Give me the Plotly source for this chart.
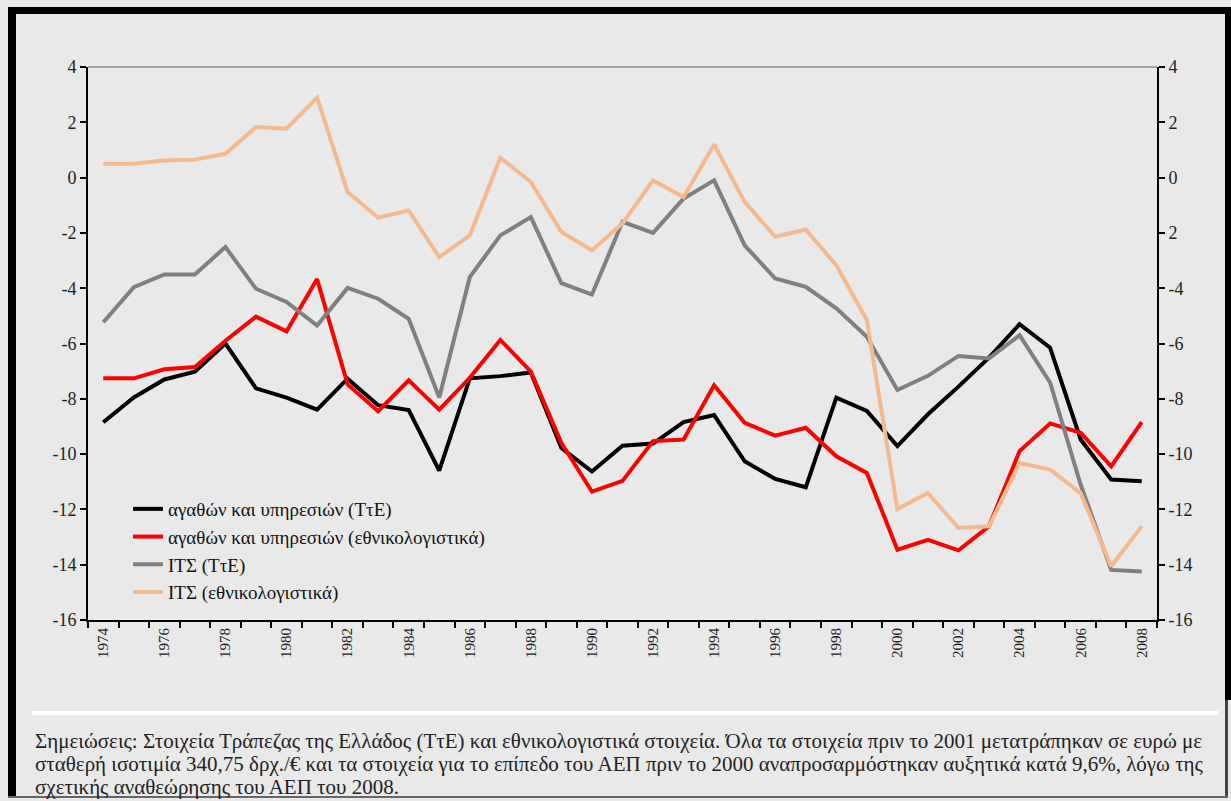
import plotly.graph_objects as go

years = list(range(1974, 2009))

# ισοζύγιο αγαθών και υπηρεσιών / ΙΤΣ, % του ΑΕΠ
goods_tte = [-8.85, -7.95, -7.3, -7.02, -6.0, -7.62, -7.96, -8.39, -7.27, -8.23,
             -8.41, -10.6, -7.26, -7.18, -7.05, -9.78, -10.63, -9.7, -9.62, -8.84,
             -8.59, -10.26, -10.9, -11.2, -7.96, -8.44, -9.71, -8.56, -7.56, -6.51,
             -5.3, -6.15, -9.47, -10.92, -10.98]
goods_nat = [-7.26, -7.26, -6.93, -6.85, -5.9, -5.03, -5.56, -3.67, -7.48, -8.45,
             -7.33, -8.39, -7.24, -5.87, -7.02, -9.6, -11.36, -10.97, -9.53, -9.47,
             -7.51, -8.87, -9.33, -9.05, -10.08, -10.68, -13.46, -13.1, -13.48, -12.61,
             -9.89, -8.89, -9.23, -10.44, -8.84]
its_tte = [-5.23, -3.96, -3.5, -3.5, -2.51, -4.02, -4.5, -5.35, -3.99, -4.38,
           -5.11, -7.95, -3.6, -2.09, -1.43, -3.82, -4.23, -1.6, -2.0, -0.76,
           -0.1, -2.45, -3.65, -3.95, -4.73, -5.76, -7.68, -7.17, -6.45, -6.54,
           -5.7, -7.41, -11.1, -14.19, -14.25]
its_nat = [0.5, 0.5, 0.62, 0.65, 0.86, 1.83, 1.77, 2.89, -0.52, -1.45,
           -1.19, -2.88, -2.09, 0.72, -0.16, -1.97, -2.63, -1.66, -0.1, -0.7,
           1.2, -0.88, -2.14, -1.88, -3.17, -5.15, -11.99, -11.41, -12.67, -12.61,
           -10.32, -10.56, -11.41, -14.06, -12.61]

names = ["αγαθών και υπηρεσιών (ΤτΕ)",
         "αγαθών και υπηρεσιών (εθνικολογιστικά)",
         "ΙΤΣ (ΤτΕ)",
         "ΙΤΣ (εθνικολογιστικά)"]
colors = ["#000000", "#ff0000", "#808080", "#f5b98e"]

y_ticks = [4, 2, 0, -2, -4, -6, -8, -10, -12, -14, -16]
y_left_text = ["4", "2", "0", "-2", "-4", "-6", "-8", "-10", "-12", "-14", "-16"]
y_right_text = ["4", "2", "0", "2", "-4", "-6", "-8", "-10", "-12", "-14", "-16"]
x_labels = list(range(1974, 2009, 2))

note_lines = [
    "Σημειώσεις: Στοιχεία Τράπεζας της Ελλάδος (ΤτΕ) και εθνικολογιστικά στοιχεία. Όλα τα στοιχεία πριν το 2001 μετατράπηκαν σε ευρώ με",
    "σταθερή ισοτιμία 340,75 δρχ./€ και τα στοιχεία για το επίπεδο του ΑΕΠ πριν το 2000 αναπροσαρμόστηκαν αυξητικά κατά 9,6%, λόγω της",
    "σχετικής αναθεώρησης του ΑΕΠ του 2008.",
]

W, H = 1231, 801
FONT = "Liberation Serif, Times New Roman, serif"


def px(x):
    return x / W


def py(y):
    return 1 - y / H


fig = go.Figure()
for vals, name, col in zip([goods_tte, goods_nat, its_tte, its_nat], names, colors):
    fig.add_trace(go.Scatter(x=years, y=vals, name=name, mode="lines",
                             line=dict(color=col, width=4)))

# dummy trace so the right axis gets drawn
fig.add_trace(go.Scatter(x=[years[0]], y=[None], yaxis="y2", showlegend=False,
                         hoverinfo="skip", mode="lines"))

fig.update_layout(
    width=W, height=H,
    margin=dict(l=0, r=0, t=0, b=0, pad=0, autoexpand=False),
    paper_bgcolor="#e9e9e9",
    plot_bgcolor="#e9e9e9",
    font=dict(family=FONT, color="#222222"),
    showlegend=True,
    legend=dict(x=px(128), y=py(490), xanchor="left", yanchor="top",
                bgcolor="rgba(0,0,0,0)", font=dict(size=19, color="#111111"),
                tracegroupgap=0),
    xaxis=dict(domain=[px(88), px(1157)], range=[1973.5, 2008.5],
               tickmode="array", tickvals=x_labels, ticktext=[str(v) for v in x_labels],
               tickangle=-90, ticks="", tickfont=dict(size=15),
               showline=True, linecolor="black", linewidth=2,
               showgrid=False, zeroline=False, automargin=False,
               minor=dict(tickmode="linear", tick0=1973.5, dtick=1, ticks="outside",
                          ticklen=6, tickcolor="black", tickwidth=1.5, showgrid=False)),
    yaxis=dict(domain=[py(620), py(67)], range=[-16, 4],
               tickmode="array", tickvals=y_ticks, ticktext=y_left_text,
               ticks="outside", ticklen=6, tickcolor="black", tickwidth=1.5,
               tickfont=dict(size=18), automargin=False,
               showline=True, linecolor="black", linewidth=2,
               showgrid=False, zeroline=False),
    yaxis2=dict(overlaying="y", side="right", range=[-16, 4],
                tickmode="array", tickvals=y_ticks, ticktext=y_right_text,
                ticks="outside", ticklen=6, tickcolor="black", tickwidth=1.5,
                tickfont=dict(size=18), automargin=False,
                showline=True, linecolor="black", linewidth=2,
                showgrid=False, zeroline=False),
)


def box(x0, y0, x1, y1, color):
    # filled rectangle given in figure pixels
    return dict(type="rect", xref="paper", yref="paper", layer="below",
                x0=px(x0), x1=px(x1), y0=py(y1), y1=py(y0),
                fillcolor=color, line=dict(width=0))


shapes = [
    # gray top border of plot area
    dict(type="line", xref="paper", yref="paper", x0=px(88), x1=px(1157), y0=py(67), y1=py(67),
         line=dict(color="#8a8a8a", width=1.5)),
    # outer black frame
    box(8, 7, 16, 797, "black"),
    box(8, 7, 1231, 14, "black"),
    box(1225, 7, 1231, 700, "black"),
    box(1225, 700, 1228, 798, "#444444"),
    box(8, 796, 1228, 798, "#666666"),
    # white separator above the notes
    box(32, 711, 1218, 715, "white"),
]
fig.update_layout(shapes=shapes)

for i, line in enumerate(note_lines):
    fig.add_annotation(text=line, xref="paper", yref="paper", x=px(33), y=py(741 + i * 23),
                       xanchor="left", yanchor="middle", showarrow=False,
                       font=dict(size=21, family=FONT, color="#222222"))

page_css = """
var s = document.createElement('style');
s.textContent = 'html,body{margin:0;padding:0;width:1231px;height:801px;overflow:hidden;}'
  + '.plotly-graph-div{position:absolute;top:0;left:0;}';
document.head.appendChild(s);
"""
fig.write_html("out.html",
               config={"displayModeBar": False, "responsive": False},
               post_script=page_css)
